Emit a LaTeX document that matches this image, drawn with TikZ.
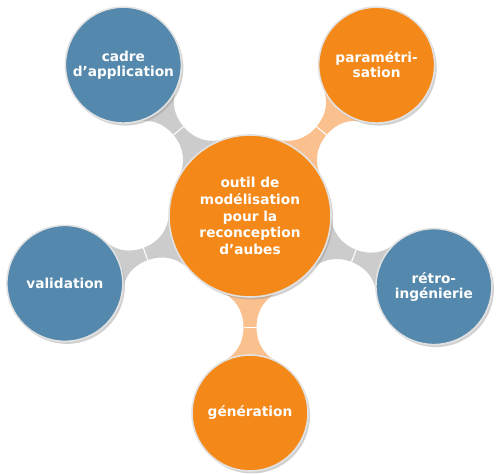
\documentclass[tikz,border=0pt]{standalone}
\usepackage{fontspec}
\setmainfont{DejaVu Sans}
\usepackage{tikz}
\usetikzlibrary{positioning,calc,backgrounds,shadows}
\definecolor{mapblue}{RGB}{84,136,172}
\definecolor{maporange}{RGB}{244,137,25}
\definecolor{bargray}{RGB}{204,204,204}
\definecolor{barorange}{RGB}{250,193,143}
\definecolor{ringgray}{RGB}{226,226,226}

\begin{document}
\begin{tikzpicture}[
  bubble/.style={circle,draw=ringgray,line width=0.9pt,text=white,align=center,inner sep=0pt,
    font=\bfseries\fontsize{7.8}{8.5}\selectfont,
    drop shadow={shadow xshift=0.04cm,shadow yshift=-0.05cm,fill=black!40,opacity=0.45}},
  hubnode/.style={bubble,fill=maporange,minimum size=3.24cm,font=\bfseries\fontsize{7.8}{9.5}\selectfont},
  kidblue/.style={bubble,fill=mapblue,minimum size=2.32cm},
  kidorange/.style={bubble,fill=maporange,minimum size=2.32cm}
]
  \useasboundingbox (0,0) rectangle (9.94,9.48);

  \node[hubnode] (hub) at (5.0,5.16) {outil de\\ modélisation\\ pour la\\ reconception\\ d’aubes};

  \node[kidblue] (cadre) at ([shift={(130:3.94)}]hub.center) {cadre\\ d’application};
  \node[kidorange] (param) at ([shift={(50:3.94)}]hub.center) {paramétri-\\ sation};
  \node[kidblue] (retro) at ([shift={(-21:3.94)}]hub.center) {rétro-\\ ingénierie};
  \node[kidorange] (gen) at ([shift={(-90:3.94)}]hub.center) {génération};
  \node[kidblue] (valid) at ([shift={(200:3.94)}]hub.center) {validation};

  % connection bars behind the bubbles
  \begin{scope}[on background layer]
    \foreach \kid/\tone in {cadre/bargray,param/barorange,retro/bargray,gen/barorange,valid/bargray}{
      \coordinate (m) at ($(hub.center)!2.224cm!(\kid.center)$);
      \coordinate (mt) at ($(m)!0.13cm!90:(\kid.center)$);
      \coordinate (mb) at ($(m)!0.13cm!-90:(\kid.center)$);
      \fill[\tone] (hub.center) -- ($(hub.center)!1.62cm!22.6:(\kid.center)$)
        to[out=-33.7,in=213.7,relative] (mt)
        to[out=-30.9,in=210.9,relative] ($(\kid.center)!1.16cm!-28.3:(hub.center)$)
        -- (\kid.center)
        -- ($(\kid.center)!1.16cm!28.3:(hub.center)$)
        to[out=-30.9,in=210.9,relative] (mb)
        to[out=-33.7,in=213.7,relative] ($(hub.center)!1.62cm!-22.6:(\kid.center)$)
        -- cycle;
      \draw[white,line width=0.6pt] (mt) -- (mb);
    }
  \end{scope}
\end{tikzpicture}
\end{document}
